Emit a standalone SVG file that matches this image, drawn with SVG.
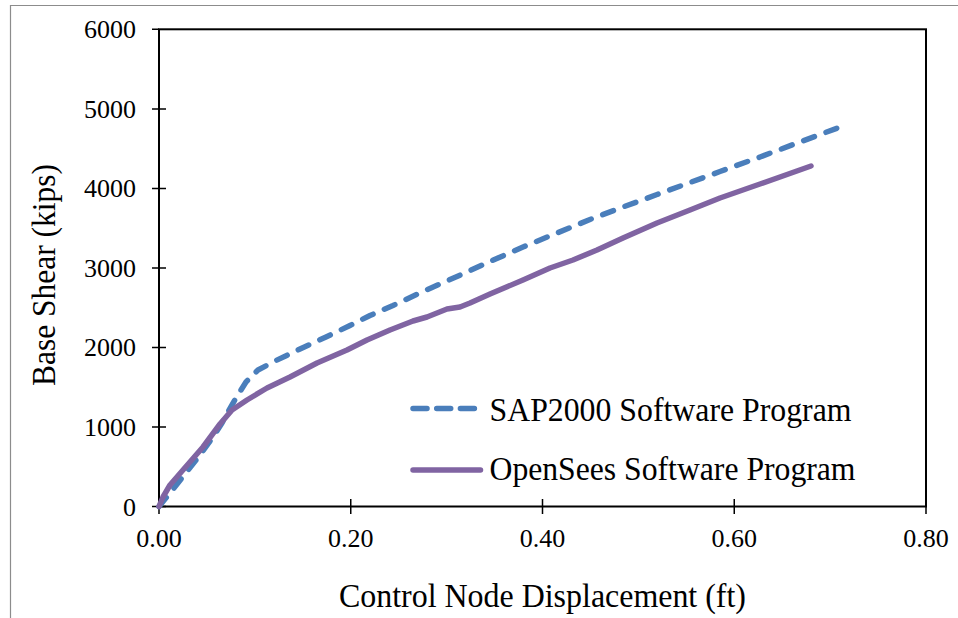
<svg xmlns="http://www.w3.org/2000/svg" width="958" height="618" viewBox="0 0 958 618">
  <style>
    .frame { fill: none; stroke: #8c8c8c; stroke-width: 1.2; }
    .plot { fill: none; stroke: #000; stroke-width: 2; }
    .tick { stroke: #000; stroke-width: 1.5; }
    .lbl { font-family: "Liberation Serif", "Times New Roman", serif; font-size: 26px; fill: #000; }
    .title { font-family: "Liberation Serif", "Times New Roman", serif; font-size: 33px; fill: #000; }
    .sap { fill: none; stroke: #4A7EBB; stroke-width: 5.5; stroke-linecap: round; stroke-linejoin: round; stroke-dasharray: 11.5 12.3; }
    .ops { fill: none; stroke: #8064A2; stroke-width: 5.5; stroke-linecap: round; stroke-linejoin: round; }
  </style>

  <rect width="958" height="618" fill="#fff"/>
  <!-- chart frame (top and left edges) -->
  <path class="frame" d="M10.5,618 V5.5 H958"/>

  <!-- plot area and axes -->
  <g id="axes">
    <rect class="plot" x="159" y="29.3" width="767" height="477.2"/>
    <g id="y-ticks">
      <path class="tick" d="M152,506.5H166 M152,427H166 M152,347.4H166 M152,267.9H166 M152,188.4H166 M152,108.9H166 M152,29.3H159"/>
      <text class="lbl" text-anchor="end" x="136" y="515.5">0</text>
      <text class="lbl" text-anchor="end" x="136" y="436">1000</text>
      <text class="lbl" text-anchor="end" x="136" y="356.4">2000</text>
      <text class="lbl" text-anchor="end" x="136" y="276.9">3000</text>
      <text class="lbl" text-anchor="end" x="136" y="197.4">4000</text>
      <text class="lbl" text-anchor="end" x="136" y="117.9">5000</text>
      <text class="lbl" text-anchor="end" x="136" y="38.3">6000</text>
    </g>
    <g id="x-ticks">
      <path class="tick" d="M159,499V514 M350.75,499V514 M542.5,499V514 M734.25,499V514 M926,506.5V514"/>
      <text class="lbl" text-anchor="middle" x="159" y="547">0.00</text>
      <text class="lbl" text-anchor="middle" x="350.75" y="547">0.20</text>
      <text class="lbl" text-anchor="middle" x="542.5" y="547">0.40</text>
      <text class="lbl" text-anchor="middle" x="734.25" y="547">0.60</text>
      <text class="lbl" text-anchor="middle" x="926" y="547">0.80</text>
    </g>
  </g>

  <!-- axis titles -->
  <text id="x-title" class="title" x="339" y="607" textLength="407" lengthAdjust="spacingAndGlyphs">Control Node Displacement (ft)</text>
  <text id="y-title" class="title" transform="translate(55,386) rotate(-90)" x="0" y="0" textLength="222" lengthAdjust="spacingAndGlyphs">Base Shear (kips)</text>

  <!-- data series -->
  <g id="series">
    <polyline id="sap2000" class="sap" points="159,506.5 170,493 185,474 200,455 213,437 222,423 228,412 236,398 246,382 258,370 275,361 300,349 326,337 350,325.5 370,315.5 393,305.5 423,291.5 457,276.5 490,261.5 523,247 557,233 590,219.5 623,207 657,194.5 690,182.5 720,171.5 760,157 800,142 836.7,128.3"/>
    <polyline id="opensees" class="ops" points="159,506.5 163,497 170,485 183,470 203,447 220,424 232,410 247,400 267,388 290,377 317,363 347,350 367,340 390,330 413,321 427,317 447,309 460,307 470,303 490,294 523,280 550,268 573,260 597,250 623,238 657,223 690,210 720,198 760,184 811,166"/>
  </g>

  <!-- legend -->
  <g id="legend">
    <g id="legend-sap">
      <path class="sap" d="M413,408.5H475" style="stroke-dasharray:14 9.7"/>
      <text class="title" x="489.5" y="420.5" textLength="362" lengthAdjust="spacingAndGlyphs">SAP2000 Software Program</text>
    </g>
    <g id="legend-ops">
      <path class="ops" d="M413,470H480.5"/>
      <text class="title" x="489.5" y="480" textLength="366" lengthAdjust="spacingAndGlyphs">OpenSees Software Program</text>
    </g>
  </g>
</svg>
